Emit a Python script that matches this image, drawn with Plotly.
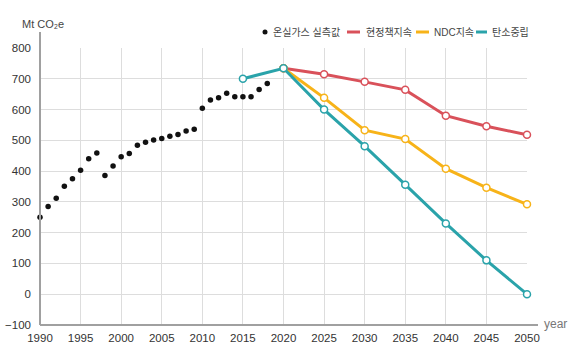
import plotly.graph_objects as go

# ---- data ----
hist_years = list(range(1990, 2019))
hist_values = [250, 285, 312, 351, 375, 403, 440, 459, 386, 417, 447, 457, 484, 494,
               501, 506, 513, 519, 530, 536, 604, 631, 638, 653, 642, 642, 642, 665, 685]

proj_years = [2020, 2025, 2030, 2035, 2040, 2045, 2050]
current_policy = [734, 715, 690, 664, 580, 546, 518]
ndc_values = [734, 638, 533, 504, 408, 346, 292]
neutral_years = [2015, 2020, 2025, 2030, 2035, 2040, 2045, 2050]
neutral_values = [700, 734, 600, 481, 356, 230, 110, 0]

series_names = ["온실가스 실측값", "현정책지속", "NDC지속", "탄소중립"]
x_ticks = list(range(1990, 2051, 5))
y_ticks = list(range(-100, 801, 100))

RED = "#d9515a"
ORANGE = "#f7b319"
TEAL = "#2aa3aa"
FONT = "Liberation Sans, Noto Sans CJK KR, sans-serif"

fig = go.Figure()

fig.add_trace(go.Scatter(x=hist_years, y=hist_values, mode="markers",
                         marker=dict(color="#111111", size=5.5), name=series_names[0],
                         showlegend=False, cliponaxis=False))
for xs, ys, col, nm in [(proj_years, current_policy, RED, series_names[1]),
                        (proj_years, ndc_values, ORANGE, series_names[2]),
                        (neutral_years, neutral_values, TEAL, series_names[3])]:
    fig.add_trace(go.Scatter(x=xs, y=ys, mode="lines+markers", name=nm, showlegend=False,
                             line=dict(color=col, width=3),
                             marker=dict(symbol="circle", size=7, color="white",
                                         line=dict(color=col, width=1.5)),
                             cliponaxis=False))

# ---- manual legend (paper coords) ----
W, H = 573, 356
ml, mr, mt, mb = 40, 46, 48, 31
pw, ph = W - ml - mr, H - mt - mb

def px(x):
    return (x - ml) / pw

def py(y):
    return (H - mb - y) / ph

shapes = []
annotations = []
ly = 32
shapes.append(dict(type="circle", xref="paper", yref="paper",
                   x0=px(262.5), x1=px(267.5), y0=py(34.5), y1=py(29.5),
                   fillcolor="#111111", line=dict(width=0)))
annotations.append(dict(x=px(271), y=py(ly), xref="paper", yref="paper", text=series_names[0],
                        showarrow=False, xanchor="left", yanchor="middle",
                        font=dict(size=10, color="#444444", family=FONT)))
for x0, x1, tx, col, nm in [(347, 360, 364, RED, series_names[1]),
                            (416, 429, 432, ORANGE, series_names[2]),
                            (476, 487, 490, TEAL, series_names[3])]:
    shapes.append(dict(type="line", xref="paper", yref="paper", x0=px(x0), x1=px(x1),
                       y0=py(ly), y1=py(ly), line=dict(color=col, width=3)))
    annotations.append(dict(x=px(tx), y=py(ly), xref="paper", yref="paper", text=nm,
                            showarrow=False, xanchor="left", yanchor="middle",
                            font=dict(size=10, color="#444444", family=FONT)))

# axis lines extended
shapes.append(dict(type="line", xref="paper", yref="paper", x0=0, x1=0, y0=0, y1=py(32),
                   line=dict(color="#a0a0a0", width=2), layer="above"))
shapes.append(dict(type="line", xref="paper", yref="paper", x0=0, x1=px(538), y0=0, y1=0,
                   line=dict(color="#a0a0a0", width=2), layer="above"))

annotations.append(dict(x=px(20), y=py(24), xref="paper", yref="paper", text="Mt CO₂e",
                        showarrow=False, xanchor="left", yanchor="middle",
                        font=dict(size=11, color="#444444", family=FONT)))
annotations.append(dict(x=px(542), y=py(324), xref="paper", yref="paper", text="year",
                        showarrow=False, xanchor="left", yanchor="middle",
                        font=dict(size=12, color="#777777", family=FONT)))

fig.update_layout(
    width=W, height=H,
    margin=dict(l=ml, r=mr, t=mt, b=mb, pad=0),
    paper_bgcolor="white", plot_bgcolor="white",
    font=dict(family=FONT, size=11, color="#333333"),
    showlegend=False,
    shapes=shapes, annotations=annotations,
    xaxis=dict(range=[1990, 2050], tickvals=x_ticks, ticks="", showline=False,
               showgrid=True, gridcolor="#dddddd", gridwidth=1, zeroline=False,
               automargin=False, ticklabelstandoff=4,
               tickfont=dict(size=11.5, color="#333333"), fixedrange=True),
    yaxis=dict(range=[-100, 800], tickvals=y_ticks, ticks="", showline=False,
               showgrid=True, gridcolor="#dddddd", gridwidth=1, zeroline=False,
               automargin=False, ticklabelstandoff=8,
               tickfont=dict(size=11.5, color="#333333"), fixedrange=True),
)

fig.write_html("out.html",
               config=dict(displayModeBar=False, staticPlot=True),
               post_script="document.body.style.margin='0';document.body.style.overflow='hidden';")
